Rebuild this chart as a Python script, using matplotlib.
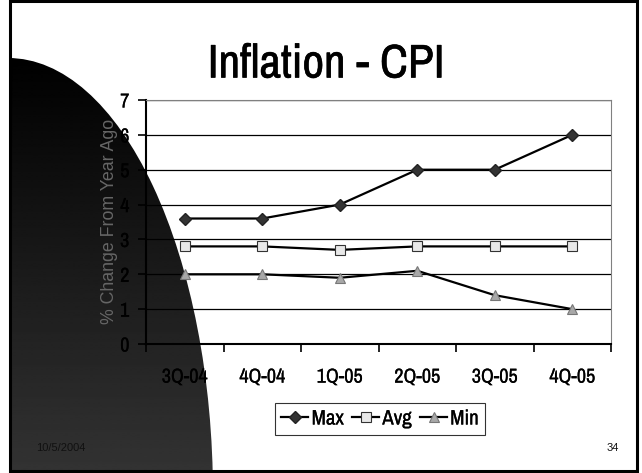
import os
import numpy as np
import matplotlib
matplotlib.use('Agg')
import matplotlib.pyplot as plt
import matplotlib.patheffects as pe
from matplotlib import font_manager
from matplotlib.font_manager import FontProperties
from matplotlib.patches import Ellipse, Rectangle

quarters = ['3Q-04', '4Q-04', '1Q-05', '2Q-05', '3Q-05', '4Q-05']
max_vals = [3.6, 3.6, 4.0, 5.0, 5.0, 6.0]
avg_vals = [2.8, 2.8, 2.7, 2.8, 2.8, 2.8]
min_vals = [2.0, 2.0, 1.9, 2.1, 1.4, 1.0]
y_ticks = [0, 1, 2, 3, 4, 5, 6, 7]


def find_narrow():
    # a narrow sans face to stand in for Arial Narrow
    prefs = ['archivonarrow[wght].ttf', 'archivonarrow-regular.ttf',
             'firasanscondensed-regular.ttf', 'barlowsemicondensed-regular.ttf',
             'robotocondensed-regular.ttf', 'dejavusanscondensed.ttf']
    files = list(dict.fromkeys([f.fname for f in font_manager.fontManager.ttflist]
                               + font_manager.findSystemFonts()))
    for p in prefs:
        for f in files:
            if os.path.basename(f).lower() == p:
                return f
    return None


nf = find_narrow()


def narrow(size):
    if nf:
        return FontProperties(fname=nf, size=size)
    return FontProperties(family='Liberation Sans', size=size)


# the stand-in face is a little light, thicken it a touch
thick = [pe.withStroke(linewidth=0.15, foreground='black')]
plain = 'Liberation Sans'

W, H = 642, 473
fig = plt.figure(figsize=(W / 100, H / 100), dpi=100)
fig.patch.set_facecolor('white')

# background layer in pixel coords
bg = fig.add_axes([0, 0, 1, 1], zorder=0)
bg.set_xlim(0, W)
bg.set_ylim(H, 0)
bg.axis('off')

grad = np.linspace(0.0, 0.2, 256).reshape(-1, 1)
img = bg.imshow(grad, cmap='gray', vmin=0, vmax=1, aspect='auto',
                extent=[9, W, H, 58], interpolation='bilinear')
shape = Ellipse((8, 495), 2 * 205, 2 * 437, transform=bg.transData,
                facecolor='none', edgecolor='none')
bg.add_patch(shape)
img.set_clip_path(shape)

# chart
ax = fig.add_axes([146 / W, 1 - 344 / H, 465 / W, 244 / H], zorder=2)
ax.patch.set_alpha(0)
x = np.arange(len(quarters))
ax.plot(x, max_vals, color='black', lw=1.6, marker='D', ms=6.5,
        mfc='#333333', mec='#222222', label='Max', zorder=4)
ax.plot(x, avg_vals, color='black', lw=1.6, marker='s', ms=7,
        mfc='#e8e8e8', mec='#333333', mew=0.8, label='Avg', zorder=4)
ax.plot(x, min_vals, color='black', lw=1.6, marker='^', ms=7.5,
        mfc='#a8a8a8', mec='#777777', mew=0.8, label='Min', zorder=4)

ax.set_xlim(-0.5, len(quarters) - 0.5)
ax.set_ylim(0, 7)
ax.set_yticks(y_ticks)
ax.set_xticks(np.arange(len(quarters) + 1) - 0.5)
ax.set_xticklabels([])
ax.set_xticks(x, minor=True)
ax.set_xticklabels(quarters, minor=True)
ax.tick_params(axis='x', which='major', direction='out', length=6, width=1.2, color='black')
ax.tick_params(axis='x', which='minor', length=0, pad=17)
ax.tick_params(axis='y', direction='out', length=6, width=1.2, pad=6)
for lab in ax.get_xticklabels(minor=True) + ax.get_yticklabels():
    lab.set_fontproperties(narrow(14.5))
    lab.set_path_effects(thick)
ax.grid(axis='y', color='black', lw=0.9)
ax.set_axisbelow(True)
ax.spines['left'].set_linewidth(1.5)
ax.spines['bottom'].set_linewidth(1.5)
ax.spines['top'].set_color('#808080')
ax.spines['right'].set_color('#808080')
ax.spines['top'].set_linewidth(0.8)
ax.spines['right'].set_linewidth(0.8)

fig.text(109 / W, 1 - 221 / H, '% Change From Year Ago', rotation=90,
         ha='center', va='center', fontsize=12.8, color='#666666',
         family=plain, zorder=3)

fig.text(326 / W, 1 - 64 / H, 'Inflation - CPI', ha='center', va='center',
         fontproperties=narrow(34), zorder=3,
         path_effects=[pe.withStroke(linewidth=0.4, foreground='black')])

leg = fig.legend(loc='center', bbox_to_anchor=(380 / W, 1 - 419 / H), ncol=3,
                 frameon=True, fancybox=False, handlelength=1.3,
                 handletextpad=0.15, columnspacing=0.4, borderpad=0.3,
                 prop=narrow(15))
leg.get_frame().set_edgecolor('black')
leg.get_frame().set_linewidth(0.8)
for t in leg.get_texts():
    t.set_path_effects(thick)

fig.text(36 / W, 1 - 448 / H, '10/5/2004', ha='left', va='center',
         fontsize=8, family=plain, color='#111111')
fig.text(619 / W, 1 - 448 / H, '34', ha='right', va='center',
         fontsize=8, family=plain, color='#111111')

# slide frame
bg.add_patch(Rectangle((9.5, 1.5), 627.5, 469.5, fill=False,
                       edgecolor='black', lw=2.2, zorder=10))

fig.savefig('out.png', dpi=100)
